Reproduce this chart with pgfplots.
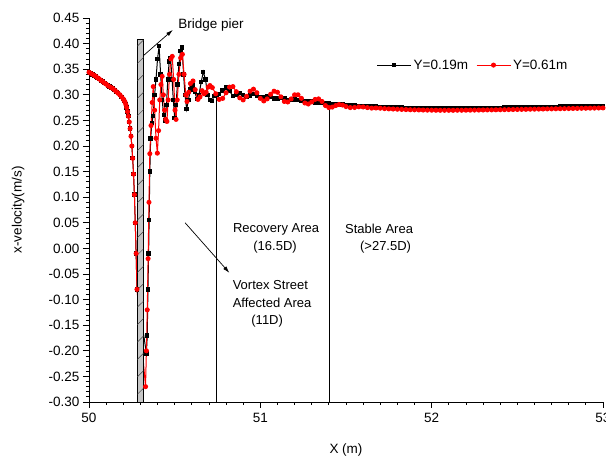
\documentclass[border=0pt]{standalone}
\usepackage{pgfplots}
\pgfplotsset{compat=1.18}
\usepackage{pgfplotstable}
\usepackage{fontspec}
\setmainfont{Liberation Sans}
\usetikzlibrary{arrows.meta}

% x-velocity along the flume, measured at two heights
\pgfplotstableread{
x y
50.00 0.344
50.01 0.342
50.02 0.340
50.03 0.338
50.04 0.336
50.05 0.333
50.06 0.331
50.07 0.328
50.08 0.326
50.09 0.323
50.10 0.321
50.11 0.318
50.12 0.316
50.13 0.314
50.14 0.312
50.15 0.309
50.16 0.306
50.17 0.303
50.18 0.300
50.19 0.296
50.20 0.292
50.205 0.289
50.21 0.286
50.215 0.281
50.22 0.275
50.225 0.267
50.23 0.258
50.235 0.247
50.24 0.234
50.245 0.219
50.25 0.200
50.255 0.176
50.26 0.145
50.265 0.105
50.27 0.050
50.275 -0.010
50.28 -0.080
50.335 -0.205
50.340 -0.170
50.344 -0.080
50.348 -0.010
50.351 0.055
50.355 0.150
50.360 0.215
50.367 0.245
50.374 0.258
50.383 0.300
50.391 0.330
50.400 0.370
50.409 0.395
50.418 0.340
50.427 0.290
50.436 0.260
50.444 0.250
50.452 0.280
50.460 0.330
50.468 0.365
50.476 0.372
50.485 0.330
50.492 0.290
50.500 0.255
50.508 0.280
50.516 0.320
50.525 0.360
50.534 0.385
50.543 0.392
50.552 0.340
50.560 0.300
50.570 0.272
50.580 0.290
50.592 0.310
50.605 0.318
50.618 0.305
50.630 0.292
50.642 0.300
50.655 0.325
50.667 0.345
50.680 0.330
50.692 0.300
50.705 0.290
50.718 0.288
50.730 0.298
50.745 0.300
50.76 0.302
50.78 0.308
50.80 0.314
50.82 0.307
50.84 0.298
50.86 0.300
50.88 0.303
50.90 0.300
50.92 0.296
50.94 0.299
50.96 0.301
50.98 0.298
51.00 0.295
51.02 0.296
51.04 0.298
51.06 0.296
51.08 0.293
51.10 0.293
51.12 0.294
51.14 0.293
51.16 0.290
51.18 0.290
51.20 0.291
51.22 0.290
51.24 0.288
51.26 0.287
51.28 0.288
51.30 0.287
51.32 0.285
51.34 0.285
51.36 0.285
51.38 0.284
51.40 0.283
51.42 0.282
51.44 0.282
51.46 0.281
51.48 0.281
51.500 0.2800
51.525 0.2795
51.550 0.2790
51.575 0.2785
51.600 0.2780
51.625 0.2776
51.650 0.2772
51.675 0.2768
51.700 0.2764
51.725 0.2760
51.750 0.2757
51.775 0.2754
51.800 0.2751
51.825 0.2748
51.850 0.2745
51.875 0.2743
51.900 0.2741
51.925 0.2739
51.950 0.2737
51.975 0.2735
52.000 0.2734
52.025 0.2733
52.050 0.2732
52.075 0.2732
52.100 0.2732
52.125 0.2733
52.150 0.2734
52.175 0.2735
52.200 0.2736
52.225 0.2737
52.250 0.2738
52.275 0.2740
52.300 0.2741
52.325 0.2743
52.350 0.2744
52.375 0.2746
52.400 0.2747
52.425 0.2749
52.450 0.2750
52.475 0.2752
52.500 0.2753
52.525 0.2755
52.550 0.2756
52.575 0.2758
52.600 0.2759
52.625 0.2761
52.650 0.2762
52.675 0.2764
52.700 0.2765
52.725 0.2767
52.750 0.2768
52.775 0.2770
52.800 0.2771
52.825 0.2773
52.850 0.2774
52.875 0.2776
52.900 0.2777
52.925 0.2779
52.950 0.2780
52.975 0.2782
53.000 0.2783
}\lowline

\pgfplotstableread{
x y
50.00 0.344
50.01 0.342
50.02 0.340
50.03 0.338
50.04 0.336
50.05 0.333
50.06 0.331
50.07 0.328
50.08 0.326
50.09 0.323
50.10 0.321
50.11 0.318
50.12 0.316
50.13 0.314
50.14 0.312
50.15 0.309
50.16 0.306
50.17 0.303
50.18 0.300
50.19 0.296
50.20 0.292
50.205 0.289
50.21 0.286
50.215 0.281
50.22 0.275
50.225 0.267
50.23 0.258
50.235 0.247
50.24 0.234
50.245 0.219
50.25 0.200
50.255 0.176
50.26 0.145
50.265 0.105
50.27 0.050
50.275 -0.010
50.28 -0.080
50.330 -0.270
50.335 -0.200
50.340 -0.120
50.345 -0.020
50.350 0.090
50.355 0.185
50.362 0.240
50.369 0.285
50.375 0.316
50.383 0.270
50.391 0.215
50.399 0.186
50.406 0.230
50.413 0.290
50.420 0.320
50.427 0.336
50.434 0.300
50.441 0.270
50.448 0.252
50.455 0.248
50.462 0.290
50.470 0.340
50.478 0.370
50.486 0.375
50.494 0.330
50.502 0.270
50.508 0.252
50.515 0.290
50.525 0.340
50.535 0.372
50.545 0.379
50.555 0.340
50.565 0.300
50.572 0.287
50.582 0.305
50.592 0.322
50.607 0.327
50.620 0.310
50.636 0.291
50.648 0.296
50.660 0.308
50.672 0.302
50.684 0.305
50.696 0.315
50.706 0.318
50.72 0.314
50.74 0.302
50.76 0.291
50.78 0.293
50.80 0.304
50.82 0.315
50.84 0.316
50.86 0.306
50.88 0.294
50.90 0.290
50.92 0.297
50.94 0.307
50.96 0.311
50.98 0.304
51.00 0.293
51.02 0.288
51.04 0.292
51.06 0.301
51.08 0.307
51.10 0.305
51.12 0.296
51.14 0.287
51.16 0.286
51.18 0.292
51.20 0.300
51.22 0.300
51.24 0.293
51.26 0.284
51.28 0.282
51.30 0.286
51.32 0.291
51.34 0.292
51.36 0.287
51.38 0.279
51.40 0.275
51.42 0.276
51.44 0.279
51.46 0.281
51.48 0.280
51.500 0.2770
51.525 0.2750
51.550 0.2752
51.575 0.2765
51.600 0.2762
51.625 0.2750
51.650 0.2740
51.675 0.2742
51.700 0.2738
51.725 0.2730
51.750 0.2725
51.775 0.2722
51.800 0.2718
51.825 0.2714
51.850 0.2711
51.875 0.2708
51.900 0.2706
51.925 0.2704
51.950 0.2702
51.975 0.2700
52.000 0.2699
52.025 0.2698
52.050 0.2697
52.075 0.2697
52.100 0.2697
52.125 0.2697
52.150 0.2698
52.175 0.2698
52.200 0.2699
52.225 0.2700
52.250 0.2701
52.275 0.2702
52.300 0.2703
52.325 0.2704
52.350 0.2705
52.375 0.2707
52.400 0.2708
52.425 0.2709
52.450 0.2711
52.475 0.2712
52.500 0.2713
52.525 0.2715
52.550 0.2716
52.575 0.2718
52.600 0.2719
52.625 0.2721
52.650 0.2722
52.675 0.2724
52.700 0.2725
52.725 0.2727
52.750 0.2728
52.775 0.2730
52.800 0.2731
52.825 0.2733
52.850 0.2734
52.875 0.2736
52.900 0.2737
52.925 0.2739
52.950 0.2740
52.975 0.2742
53.000 0.2743
}\highline

\newcommand\lbl{\fontsize{13.5}{16}\selectfont}
\newcommand\ann{\fontsize{13}{17.7}\selectfont}

\begin{document}
\begin{tikzpicture}
\begin{axis}[
  scale only axis,
  width=514pt, height=384pt,
  xmin=50, xmax=53, ymin=-0.30, ymax=0.45,
  axis x line*=bottom, axis y line*=left,
  axis line style={-, line width=0.9pt},
  xtick={50,51,52,53},
  ytick={-0.30,-0.25,-0.20,-0.15,-0.10,-0.05,0.00,0.05,0.10,0.15,0.20,0.25,0.30,0.35,0.40,0.45},
  minor x tick num=9, minor y tick num=4,
  tick align=outside,
  major tick length=6pt, minor tick length=3pt,
  tick style={line width=0.8pt, black},
  /pgf/number format/assume math mode=true,
  yticklabel style={/pgf/number format/fixed, /pgf/number format/fixed zerofill, /pgf/number format/precision=2},
  xticklabel style={/pgf/number format/fixed, /pgf/number format/precision=0, yshift=-2pt},
  tick label style={font=\lbl},
  xlabel={X (m)}, ylabel={x-velocity(m/s)},
  label style={font=\lbl},
  xlabel style={at={(axis description cs:0.5,-0.125)}, anchor=center},
  ylabel style={at={(axis description cs:-0.138,0.5)}, anchor=center},
  legend style={draw=none, fill=none, at={(axis cs:51.66,0.358)}, anchor=west,
    font=\lbl, legend columns=2,
    /tikz/every odd column/.append style={column sep=0pt},
    /tikz/every even column/.append style={column sep=6pt},
    nodes={inner xsep=2pt}},
  legend image code/.code={%
    \draw[mark repeat=2, mark phase=2] plot coordinates {(0pt,0pt) (17pt,0pt) (34pt,0pt)};},
]
\addplot[black, line width=1pt, mark=square*, mark size=1.7pt, mark options={solid}]
  table[x=x, y=y] {\lowline};
\addlegendentry{Y=0.19m}
\addplot[red, line width=1pt, mark=*, mark size=2pt, mark options={solid}]
  table[x=x, y=y] {\highline};
\addlegendentry{Y=0.61m}

% bridge pier, drawn over the traces
\draw[line width=0.8pt, fill=gray!45] (axis cs:50.28,-0.30) rectangle (axis cs:50.32,0.408);
\pgfplotsinvokeforeach{0,...,20}{
  \draw[black!75, line width=0.5pt] (axis cs:50.282,{-0.285+0.034*#1}) -- (axis cs:50.318,{-0.273+0.034*#1});
}

% zone boundaries
\draw[line width=1pt] (axis cs:50.745,-0.30) -- (axis cs:50.745,0.300);
\draw[line width=0.6pt] (axis cs:51.40,-0.30) -- (axis cs:51.40,0.283);

% annotations
\draw[line width=0.7pt, -{Latex[length=7pt,width=4pt]}] (axis cs:50.316,0.376) -- (axis cs:50.49,0.427);
\node[anchor=west, font=\lbl, inner sep=0pt] at (axis cs:50.52,0.437) {Bridge pier};
\draw[line width=0.7pt, -{Latex[length=7pt,width=4pt]}] (axis cs:50.561,0.050) -- (axis cs:50.82,-0.048);
\node[font=\ann, inner sep=0pt] at (axis cs:51.092,0.038) {Recovery Area};
\node[font=\ann, inner sep=0pt] at (axis cs:51.086,0.003) {(16.5D)};
\node[font=\ann, inner sep=0pt] at (axis cs:51.693,0.038) {Stable Area};
\node[font=\ann, inner sep=0pt] at (axis cs:51.731,0.003) {(>27.5D)};
\node[font=\ann, inner sep=0pt, anchor=west] at (axis cs:50.838,-0.0715) {Vortex Street};
\node[font=\ann, inner sep=0pt, anchor=west] at (axis cs:50.838,-0.106) {Affected Area};
\node[font=\ann, inner sep=0pt] at (axis cs:51.04,-0.143) {(11D)};
\end{axis}
\pgfresetboundingbox
\path[use as bounding box] (-89pt,-60pt) rectangle (517pt,402pt);
\end{tikzpicture}
\end{document}
